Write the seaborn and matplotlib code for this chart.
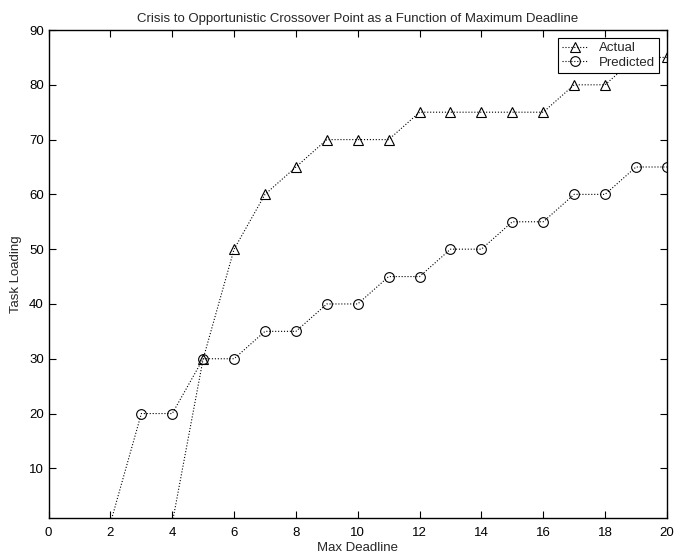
import matplotlib
matplotlib.use("Agg")
import matplotlib.pyplot as plt
import seaborn as sns
import pandas as pd

deadline = list(range(1, 21))
actual = [0, 0, 0, 0, 30, 50, 60, 65, 70, 70, 70, 75, 75, 75, 75, 75, 80, 80, 85, 85]
predicted = [0, 0, 20, 20, 30, 30, 35, 35, 40, 40, 45, 45, 50, 50, 55, 55, 60, 60, 65, 65]

x_ticks = list(range(0, 21, 2))
y_ticks = list(range(10, 91, 10))

sns.set_style("ticks")
plt.rcParams['font.family'] = ['Liberation Sans', 'DejaVu Sans']

df = pd.DataFrame({
    "Max Deadline": deadline * 2,
    "Task Loading": actual + predicted,
    "series": ["Actual"] * len(deadline) + ["Predicted"] * len(deadline),
})

fig = plt.figure(figsize=(6.75, 5.56), dpi=100)
ax = fig.add_axes([0.072, 0.069, 0.916, 0.877])

for name, mk in [("Actual", "^"), ("Predicted", "o")]:
    sub = df[df["series"] == name]
    sns.lineplot(data=sub, x="Max Deadline", y="Task Loading", ax=ax,
                 color="black", linestyle=":", linewidth=0.8,
                 marker=mk, markersize=7, markerfacecolor="none",
                 markeredgecolor="black", markeredgewidth=0.8,
                 label=name)

ax.set_xlim(0, 20)
ax.set_ylim(1, 90)
ax.set_xticks(x_ticks)
ax.set_yticks(y_ticks)
ax.tick_params(direction="in", length=5, width=0.8, labelsize=9.5,
               top=True, right=True, colors="black")
ax.tick_params(axis="x", pad=7)
for s in ax.spines.values():
    s.set_visible(True)
    s.set_linewidth(1.0)
    s.set_color("black")

ax.set_xlabel("Max Deadline", fontsize=9.5, labelpad=2)
ax.set_ylabel("Task Loading", fontsize=9.5, labelpad=5)
ax.set_title("Crisis to Opportunistic Crossover Point as a Function of Maximum Deadline",
             fontsize=9.5, pad=6)

leg = ax.legend(loc="upper right", fontsize=9.5, frameon=True, fancybox=False,
                edgecolor="black", framealpha=1, borderaxespad=0.6,
                handlelength=2.0, borderpad=0.3, labelspacing=0.2)
leg.get_frame().set_linewidth(0.8)
leg.set_zorder(5)

fig.savefig("out.png", dpi=100)
